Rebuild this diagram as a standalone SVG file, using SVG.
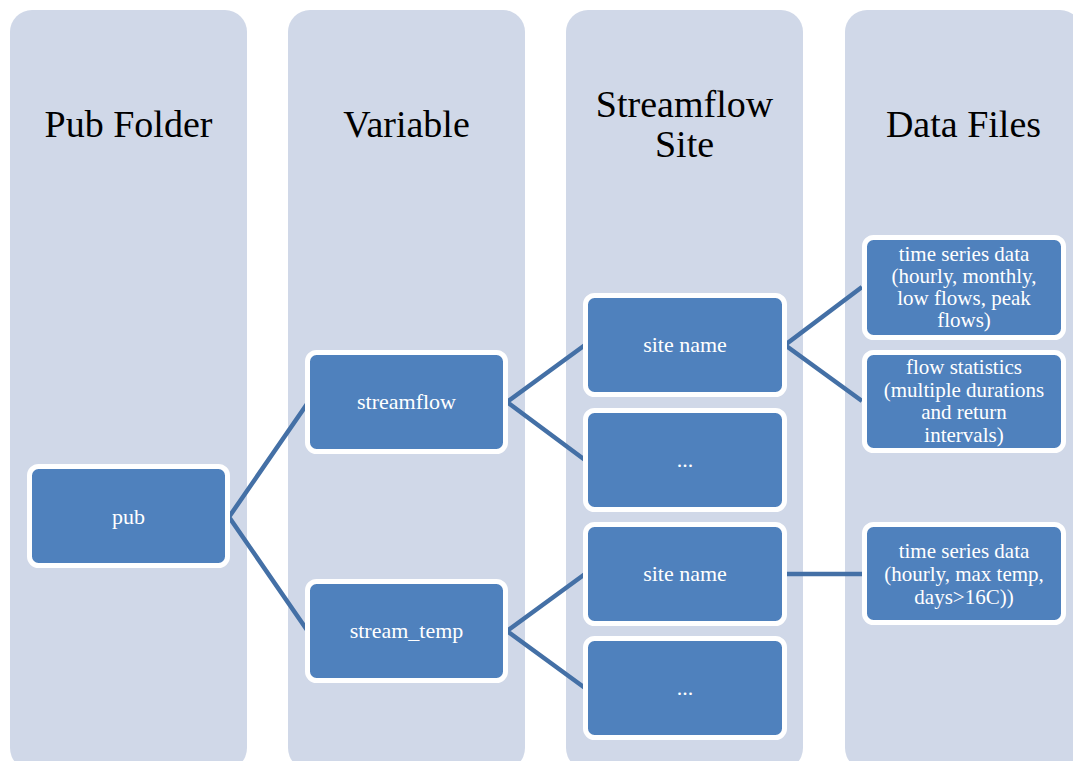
<svg xmlns="http://www.w3.org/2000/svg" width="1073" height="761" viewBox="0 0 1073 761">
<style>
.col{fill:#d0d8e8;}
.node{fill:#4f81bd;stroke:#ffffff;stroke-width:5;}
.title{font-family:"Liberation Serif",serif;font-size:38px;fill:#000000;text-anchor:middle;}
.lbl{font-family:"Liberation Serif",serif;font-size:22px;fill:#ffffff;text-anchor:middle;}
.sm{font-size:21px;}
.con{stroke:#4470a6;stroke-width:4.5;fill:none;stroke-linejoin:miter;}
</style>
<rect width="1073" height="761" fill="#ffffff"/>
<g id="columns">
<rect class="col" x="10" y="10" width="237" height="760" rx="22"/>
<rect class="col" x="288" y="10" width="237" height="760" rx="22"/>
<rect class="col" x="566" y="10" width="237" height="760" rx="22"/>
<rect class="col" x="845" y="10" width="237" height="760" rx="22"/>
<text class="title" x="128.5" y="137">Pub Folder</text>
<text class="title" x="406.5" y="137">Variable</text>
<text class="title" x="684.5" y="117">Streamflow</text>
<text class="title" x="684.5" y="157">Site</text>
<text class="title" x="963.5" y="137">Data Files</text>
</g>
<g id="connectors">
<polyline class="con" points="307,404 229,517 307,630"/>
<polyline class="con" points="585,345 507,402 585,460"/>
<polyline class="con" points="585,574 507,631 585,688"/>
<polyline class="con" points="862,287 785,345 862,401"/>
<line class="con" x1="785" y1="574" x2="862" y2="574"/>
</g>
<g id="pub">
<rect class="node" x="29.5" y="466.5" width="198" height="99" rx="9"/>
<text class="lbl" x="128.5" y="524">pub</text>
</g>
<g id="streamflow">
<rect class="node" x="307.5" y="352.5" width="198" height="99" rx="9"/>
<text class="lbl" x="406.5" y="409">streamflow</text>
</g>
<g id="stream_temp">
<rect class="node" x="307.5" y="581.5" width="198" height="99" rx="9"/>
<text class="lbl" x="406.5" y="638">stream_temp</text>
</g>
<g id="site1">
<rect class="node" x="585.5" y="295.5" width="199" height="99" rx="9"/>
<text class="lbl" x="685" y="352">site name</text>
</g>
<g id="etc1">
<rect class="node" x="585.5" y="410.5" width="199" height="99" rx="9"/>
<text class="lbl" x="685" y="467">...</text>
</g>
<g id="site2">
<rect class="node" x="585.5" y="524.5" width="199" height="99" rx="9"/>
<text class="lbl" x="685" y="581">site name</text>
</g>
<g id="etc2">
<rect class="node" x="585.5" y="638.5" width="199" height="99" rx="9"/>
<text class="lbl" x="685" y="695">...</text>
</g>
<g id="ts1">
<rect class="node" x="864.5" y="237.5" width="199" height="100" rx="9"/>
<text class="lbl sm" x="964" y="261">time series data</text>
<text class="lbl sm" x="964" y="283">(hourly, monthly,</text>
<text class="lbl sm" x="964" y="305">low flows, peak</text>
<text class="lbl sm" x="964" y="327">flows)</text>
</g>
<g id="stats">
<rect class="node" x="864.5" y="352.5" width="199" height="98" rx="9"/>
<text class="lbl sm" x="964" y="374">flow statistics</text>
<text class="lbl sm" x="964" y="397">(multiple durations</text>
<text class="lbl sm" x="964" y="419">and return</text>
<text class="lbl sm" x="964" y="442">intervals)</text>
</g>
<g id="ts2">
<rect class="node" x="864.5" y="524.5" width="199" height="98" rx="9"/>
<text class="lbl sm" x="964" y="558">time series data</text>
<text class="lbl sm" x="964" y="581">(hourly, max temp,</text>
<text class="lbl sm" x="964" y="604">days&gt;16C))</text>
</g>
</svg>
